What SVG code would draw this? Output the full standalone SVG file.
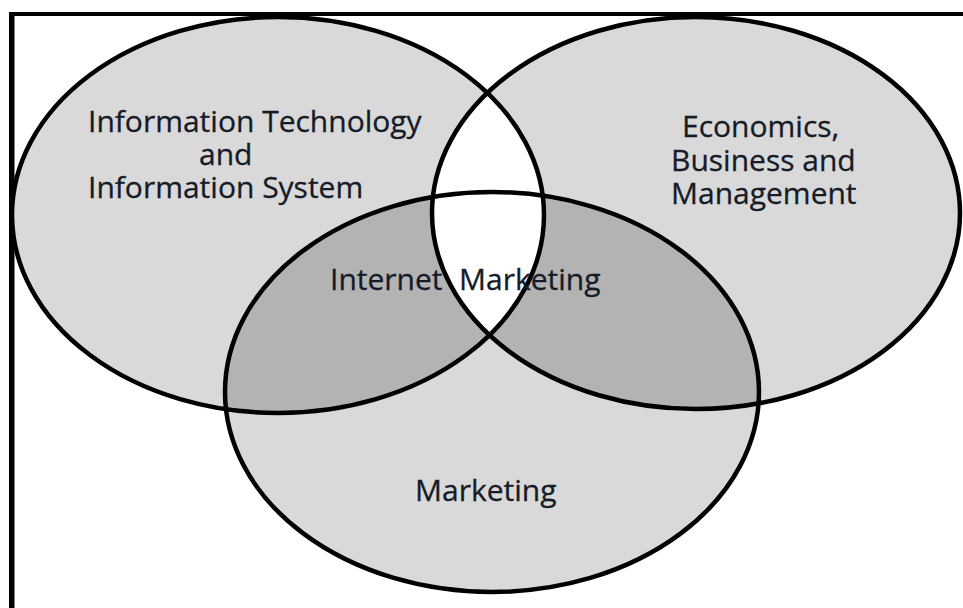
<svg xmlns="http://www.w3.org/2000/svg" width="963" height="608" viewBox="0 0 963 608">
  <style>
    .set { fill: #d9d9d9; }
    .pair { fill: #b3b3b3; }
    .core { fill: #ffffff; }
    .ring { fill: none; stroke: #000; stroke-width: 4.5; }
    .label { font-family: "Open Sans", "Noto Sans", sans-serif; font-size: 30px; fill: #161b28; stroke: #161b28; stroke-width: 0.3; }
  </style>
  <defs>
    <ellipse id="shapeIT" cx="278" cy="215" rx="266" ry="198"/>
    <ellipse id="shapeEB" cx="696" cy="213" rx="264" ry="196"/>
    <ellipse id="shapeMK" cx="492" cy="392" rx="267" ry="200"/>
    <clipPath id="clipIT"><use href="#shapeIT"/></clipPath>
    <clipPath id="clipEB"><use href="#shapeEB"/></clipPath>
  </defs>
  <rect width="963" height="608" fill="#fff"/>
  <!-- frame: top and left edges only -->
  <rect x="9" y="12" width="954" height="4" fill="#000"/>
  <rect x="9" y="12" width="5.5" height="596" fill="#000"/>

  <!-- region shading: single sets, pairwise overlaps with Marketing, white core -->
  <g id="fills">
    <use href="#shapeIT" class="set"/>
    <use href="#shapeEB" class="set"/>
    <use href="#shapeMK" class="set"/>
    <use href="#shapeMK" class="pair" clip-path="url(#clipIT)"/>
    <use href="#shapeMK" class="pair" clip-path="url(#clipEB)"/>
    <use href="#shapeIT" class="core" clip-path="url(#clipEB)"/>
  </g>

  <g id="node-it">
    <use href="#shapeIT" class="ring"/>
    <text class="label" x="88" y="132">Information Technology</text>
    <text class="label" x="199" y="165">and</text>
    <text class="label" x="88" y="198">Information System</text>
  </g>
  <g id="node-eb">
    <use href="#shapeEB" class="ring"/>
    <text class="label" x="682" y="137">Economics,</text>
    <text class="label" x="671" y="171">Business and</text>
    <text class="label" x="671" y="204">Management</text>
  </g>
  <g id="node-mk">
    <use href="#shapeMK" class="ring"/>
    <text class="label" x="415" y="501">Marketing</text>
  </g>
  <g id="node-core">
    <text class="label" x="330" y="290">Internet<tspan x="459">Marketing</tspan></text>
  </g>
</svg>
